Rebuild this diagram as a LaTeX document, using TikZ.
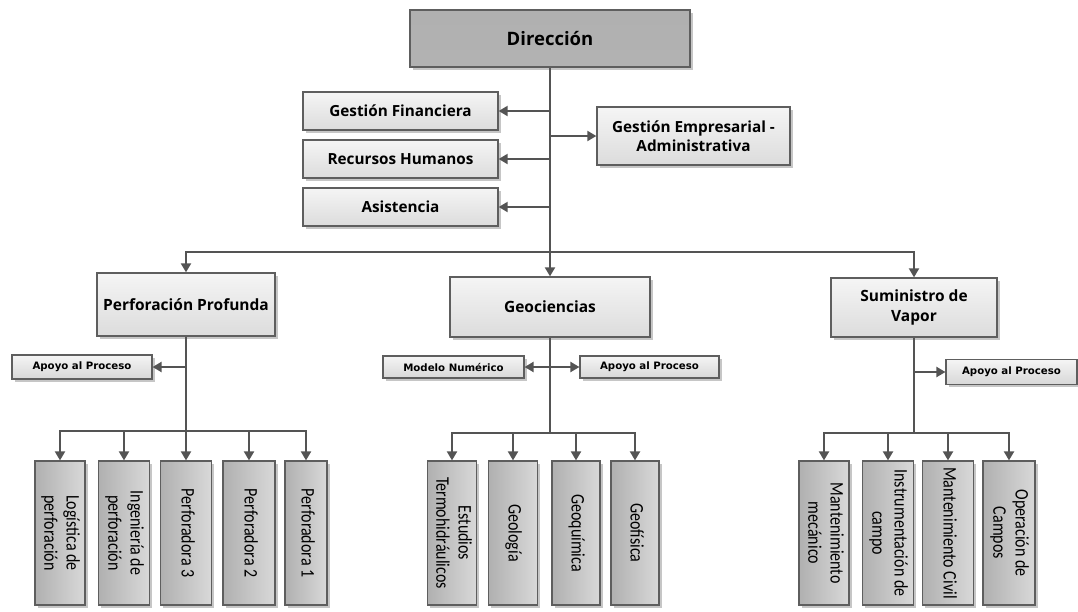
\documentclass[tikz,border=0pt]{standalone}
\usepackage{fontspec}
\setmainfont{Open Sans}
\newfontfamily\unitfont{Carlito}
\newfontfamily\tagfont{DejaVu Sans}
\usetikzlibrary{arrows.meta,shadows}

\definecolor{edgegray}{HTML}{545454}
\definecolor{boxline}{HTML}{5E5E5E}
\definecolor{lightfill}{HTML}{EFEFEF}
\definecolor{headfill}{HTML}{A2A2A2}

\tikzset{
  base/.style={draw=boxline, line width=1.3pt, inner sep=2pt, align=center,
    drop shadow={shadow xshift=2.5pt, shadow yshift=-2.5pt, fill=gray, opacity=.45}},
  headbox/.style={base, top color=headfill!85, bottom color=headfill!110!black,
    minimum width=280pt, minimum height=57pt, font=\bfseries\fontsize{18.5}{22}\selectfont},
  staffbox/.style={base, top color=white!96!black, bottom color=lightfill!92!black,
    minimum width=195pt, minimum height=38pt, font=\bfseries\fontsize{15.3}{19}\selectfont},
  deptbox/.style={base, top color=white!96!black, bottom color=lightfill!92!black,
    minimum height=60pt, font=\bfseries\fontsize{15.5}{20}\selectfont},
  smallbox/.style={base, top color=white!96!black, bottom color=lightfill!90!black,
    line width=1.1pt, minimum height=22pt, font=\tagfont\bfseries\fontsize{10.2}{12}\selectfont},
  unitbox/.style={base, left color=gray!62, right color=gray!30, line width=1.2pt,
    minimum width=50pt, minimum height=144pt, inner sep=0pt},
  link/.style={draw=edgegray, line width=2pt},
  arr/.style={link, -{Triangle[length=9pt, width=10pt]}}
}
\newcommand{\unitlabel}[1]{\rotatebox{-90}{\scalebox{1}[1.2]{\unitfont\fontsize{16}{18.5}\selectfont
  \begin{tabular}{@{}c@{}}#1\end{tabular}}}}

\begin{document}
\begin{tikzpicture}[x=1pt, y=-1pt]
\useasboundingbox (0,0) rectangle (1078,611);

% top of the organisation
\node[headbox] (dir) at (550,38.5) {Dirección};
\node[staffbox] (gf) at (400.5,111) {Gestión Financiera};
\node[staffbox] (rh) at (400.5,159) {Recursos Humanos};
\node[staffbox] (as) at (400.5,207) {Asistencia};
\node[staffbox, minimum width=193pt, minimum height=58pt] (ge) at (693.5,136)
  {Gestión Empresarial -\\Administrativa};

% departments
\node[deptbox, minimum width=178pt, minimum height=63pt] (pp) at (186,304.5) {Perforación Profunda};
\node[deptbox, minimum width=200pt] (geo) at (550,307) {Geociencias};
\node[deptbox, minimum width=166pt, minimum height=59pt] (sv) at (914,307.5) {Suministro de\\Vapor};

% support boxes
\node[smallbox, minimum width=140pt, minimum height=24pt] (ap1) at (82,367) {Apoyo al Proceso};
\node[smallbox, minimum width=141pt] (mn) at (453.5,367) {Modelo Numérico};
\node[smallbox, minimum width=139pt] (ap2) at (649.5,367) {Apoyo al Proceso};
\node[smallbox, minimum width=131pt, minimum height=25pt] (ap3) at (1011.5,372) {Apoyo al Proceso};

% operating units
\node[unitbox] (u1) at (60,533) {\unitlabel{Logística de\\perforación}};
\node[unitbox, minimum width=51pt] (u2) at (124,533) {\unitlabel{Ingeniería de\\perforación}};
\node[unitbox, minimum width=51pt] (u3) at (186,533) {\unitlabel{Perforadora 3}};
\node[unitbox, minimum width=52pt] (u4) at (249,533) {\unitlabel{Perforadora 2}};
\node[unitbox, minimum width=42pt] (u5) at (306,533) {\unitlabel{Perforadora 1}};

\node[unitbox, minimum width=49pt] (g1) at (452,533) {\unitlabel{Estudios\\Termohidráulicos}};
\node[unitbox, minimum width=49pt] (g2) at (513,533) {\unitlabel{Geología}};
\node[unitbox, minimum width=48pt] (g3) at (576,533) {\unitlabel{Geoquímica}};
\node[unitbox, minimum width=48pt] (g4) at (635,533) {\unitlabel{Geofísica}};

\node[unitbox] (s1) at (824,533) {\unitlabel{Mantenimiento\\mecánico}};
\node[unitbox, minimum width=51pt] (s2) at (888,533) {\unitlabel{Instrumentación de\\campo}};
\node[unitbox, minimum width=51pt] (s3) at (948,533) {\unitlabel{Mantenimiento Civil}};
\node[unitbox, minimum width=52pt] (s4) at (1009,533) {\unitlabel{Operación de\\Campos}};

% junction points
\coordinate (bar) at (550,252);
\coordinate (ppj) at (186,431);
\coordinate (geoj) at (550,433);
\coordinate (svj) at (914,433);

% connectors from the direction
\draw[arr] (dir.south) -- (geo.north);
\draw[arr] (dir.south |- gf.east) -- (gf.east);
\draw[arr] (dir.south |- rh.east) -- (rh.east);
\draw[arr] (dir.south |- as.east) -- (as.east);
\draw[arr] (dir.south |- ge.west) -- (ge.west);
\draw[arr] (bar) -| (pp.north);
\draw[arr] (bar) -| (sv.north);

% Perforación Profunda
\draw[link] (pp.south) -- (ppj);
\draw[arr] (ppj |- ap1.east) -- (ap1.east);
\foreach \u in {u1,u2,u3,u4,u5} \draw[arr] (ppj) -| (\u.north);

% Geociencias
\draw[link] (geo.south) -- (geoj);
\draw[arr] (geoj |- mn.east) -- (mn.east);
\draw[arr] (geoj |- ap2.west) -- (ap2.west);
\foreach \u in {g1,g2,g3,g4} \draw[arr] (geoj) -| (\u.north);

% Suministro de Vapor
\draw[link] (sv.south) -- (svj);
\draw[arr] (svj |- ap3.west) -- (ap3.west);
\foreach \u in {s1,s2,s3,s4} \draw[arr] (svj) -| (\u.north);
\end{tikzpicture}
\end{document}
